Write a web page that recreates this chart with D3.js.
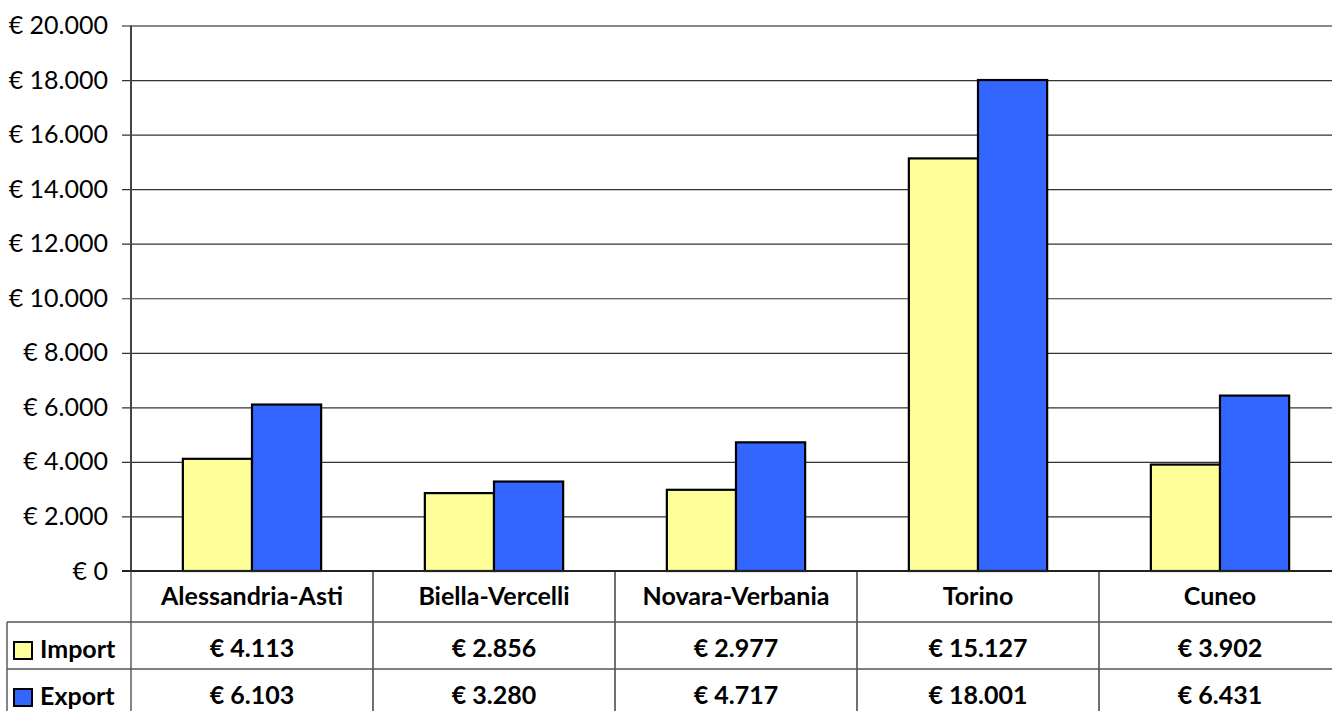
<!DOCTYPE html>
<html>
<head>
<meta charset="utf-8">
<script src="https://cdn.jsdelivr.net/npm/d3@7"></script>
<style>
  body { margin: 0; background: #fff; }
  svg { display: block; font-family: Lato, "Liberation Sans", sans-serif; }
</style>
</head>
<body>
<div id="chart"></div>
<script>
var categories = ["Alessandria-Asti", "Biella-Vercelli", "Novara-Verbania", "Torino", "Cuneo"];
var seriesNames = ["Import", "Export"];
var importValues = [4113, 2856, 2977, 15127, 3902];
var exportValues = [6103, 3280, 4717, 18001, 6431];
var seriesColors = ["#FFFF99", "#3366FF"];
var yTicks = [0, 2000, 4000, 6000, 8000, 10000, 12000, 14000, 16000, 18000, 20000];

var W = 1332, H = 711;
var margin = {left: 131, top: 25.5},
    colW = 242,
    width = colW * categories.length,
    height = 545.5;

var svg = d3.select("#chart").append("svg")
    .attr("width", W)
    .attr("height", H);

var g = svg.append("g").attr("transform", "translate(" + margin.left + "," + margin.top + ")");

var x0 = d3.scaleBand().domain(categories).range([0, width]).paddingInner(0).paddingOuter(0);
var x1 = d3.scaleBand().domain(seriesNames).range([0, x0.bandwidth() * 2 / 3.5]);
var y = d3.scaleLinear().domain([0, 20000]).range([height, 0]);

var fmt = function(v) {
  var s = String(Math.round(v));
  return "€ " + s.replace(/\B(?=(\d{3})+(?!\d))/g, ".");
};

// gridlines + tick labels
var yAxis = g.append("g")
    .call(d3.axisLeft(y).tickValues(yTicks).tickSize(0).tickPadding(23).tickFormat(fmt));
yAxis.select(".domain").remove();
yAxis.selectAll(".tick text")
    .attr("fill", "#000")
    .style("font-size", "25px")
    .style("font-family", "Lato, sans-serif");
yAxis.selectAll(".tick").append("line")
    .attr("x1", -9)
    .attr("x2", width)
    .attr("stroke", function(d) { return d === 20000 ? "#8a8a8a" : "#333"; })
    .attr("stroke-width", function(d) { return d === 20000 ? 2 : 1.2; });

// bars
var data = categories.map(function(c, i) {
  return {cat: c, values: [
    {name: "Import", value: importValues[i]},
    {name: "Export", value: exportValues[i]}
  ]};
});

var groups = g.selectAll(".grp")
    .data(data)
    .enter().append("g")
    .attr("class", "grp")
    .attr("transform", function(d) {
      return "translate(" + (x0(d.cat) + (x0.bandwidth() - x1.range()[1]) / 2) + ",0)";
    });

groups.selectAll("rect")
    .data(function(d) { return d.values; })
    .enter().append("rect")
    .attr("x", function(d) { return x1(d.name); })
    .attr("y", function(d) { return y(d.value); })
    .attr("width", x1.bandwidth())
    .attr("height", function(d) { return height - y(d.value); })
    .attr("fill", function(d, i) { return seriesColors[i]; })
    .attr("stroke", "#000")
    .attr("stroke-width", 2.2);

// axis lines
g.append("line")
    .attr("x1", 0).attr("x2", 0)
    .attr("y1", 0).attr("y2", height)
    .attr("stroke", "#444").attr("stroke-width", 2);
g.append("line")
    .attr("x1", -9).attr("x2", width)
    .attr("y1", height).attr("y2", height)
    .attr("stroke", "#222").attr("stroke-width", 2);

// data table
var rowTop = margin.top + height,
    catRowH = 51,
    rowH = 47;
var table = svg.append("g");

// vertical dividers
table.selectAll(".vdiv")
    .data(categories)
    .enter().append("line")
    .attr("x1", function(d) { return margin.left + x0(d) + colW; })
    .attr("x2", function(d) { return margin.left + x0(d) + colW; })
    .attr("y1", rowTop)
    .attr("y2", H)
    .attr("stroke", "#222").attr("stroke-width", 1.3);
table.append("line")
    .attr("x1", margin.left).attr("x2", margin.left)
    .attr("y1", rowTop).attr("y2", H)
    .attr("stroke", "#444").attr("stroke-width", 1.3);
table.append("line")
    .attr("x1", 7).attr("x2", 7)
    .attr("y1", rowTop + catRowH).attr("y2", H)
    .attr("stroke", "#444").attr("stroke-width", 1.3);

// horizontal dividers
[0, 1].forEach(function(i) {
  table.append("line")
    .attr("x1", 7).attr("x2", W)
    .attr("y1", rowTop + catRowH + i * rowH)
    .attr("y2", rowTop + catRowH + i * rowH)
    .attr("stroke", "#555").attr("stroke-width", 1.3);
});

// category labels
table.selectAll(".cat")
    .data(categories)
    .enter().append("text")
    .attr("x", function(d) { return margin.left + x0(d) + colW / 2; })
    .attr("y", rowTop + 34)
    .attr("text-anchor", "middle")
    .style("font-size", "25px")
    .style("font-weight", "bold")
    .text(function(d) { return d; });

// value rows
[importValues, exportValues].forEach(function(vals, r) {
  var ry = rowTop + catRowH + r * rowH;
  table.append("rect")
    .attr("x", 14).attr("y", ry + 20)
    .attr("width", 18).attr("height", 17)
    .attr("fill", seriesColors[r])
    .attr("stroke", "#000").attr("stroke-width", 2);
  table.append("text")
    .attr("x", 40).attr("y", ry + 36)
    .style("font-size", "25px")
    .style("font-weight", "bold")
    .text(seriesNames[r]);
  table.selectAll(".v" + r)
    .data(vals)
    .enter().append("text")
    .attr("x", function(d, i) { return margin.left + x0(categories[i]) + colW / 2; })
    .attr("y", ry + 35)
    .attr("text-anchor", "middle")
    .style("font-size", "25px")
    .style("font-weight", "bold")
    .text(function(d) { return fmt(d); });
});
</script>
</body>
</html>
